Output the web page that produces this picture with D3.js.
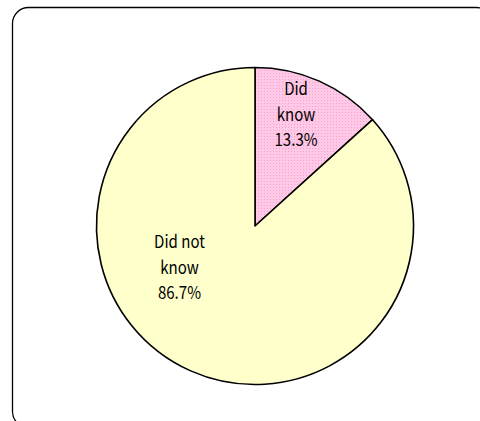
<!DOCTYPE html>
<html><head><meta charset="utf-8">
<script src="https://cdn.jsdelivr.net/npm/d3@7"></script>
<style>body{margin:0;background:#fff}</style>
</head><body>
<svg id="c" width="480" height="421"></svg>
<script>
const categories = ["Did know", "Did not know"];
const values = [13.3, 86.7];
const labelLines = [["Did", "know", "13.3%"], ["Did not", "know", "86.7%"]];

const svg = d3.select("#c");
const defs = svg.append("defs");
const pat = defs.append("pattern").attr("id","dots").attr("width",3).attr("height",3).attr("patternUnits","userSpaceOnUse");
pat.append("rect").attr("width",3).attr("height",3).attr("fill","#ffc8e6");
pat.append("rect").attr("x",0).attr("y",0).attr("width",1).attr("height",1).attr("fill","#f5a3cd");

svg.append("rect").attr("x",12.5).attr("y",7.5).attr("width",480).attr("height",420)
  .attr("rx",16).attr("fill","#fff").attr("stroke","#000").attr("stroke-width",1.3);

const cx = 255, cy = 226, r = 158.5;
const pie = d3.pie().sort(null).value(d=>d);
const arcs = pie(values);
const arc = d3.arc().innerRadius(0).outerRadius(r);
const fills = ["url(#dots)", "#ffffcc"];
const g = svg.append("g").attr("transform",`translate(${cx},${cy})`);
g.selectAll("path").data(arcs).join("path")
  .attr("d",arc).attr("fill",(d,i)=>fills[i]).attr("stroke","#000").attr("stroke-width",1.6).attr("stroke-linejoin","round");

// label placement (best-fit style): angle offset from slice middle and radius fraction
const labelPlace = [{da: -0.05, rf: 0.72}, {da: 0.6, rf: 0.56}];
const lh = 25.5;
arcs.forEach((a,i)=>{
  const ang = (a.startAngle + a.endAngle)/2 + labelPlace[i].da;
  const rr = r * labelPlace[i].rf;
  const x = rr*Math.sin(ang), y = -rr*Math.cos(ang);
  const t = g.append("text").attr("text-anchor","middle")
    .attr("transform",`translate(${x},${y}) scale(0.86,1)`)
    .attr("font-family","'Noto Sans CJK JP', 'Noto Sans', sans-serif").attr("font-size",17.5).attr("fill","#000");
  const lines = labelLines[i];
  lines.forEach((s,k)=>{
    t.append("tspan").attr("x",0).attr("y",(k-(lines.length-1)/2)*lh + 1).text(s);
  });
});
</script>
</body></html>
